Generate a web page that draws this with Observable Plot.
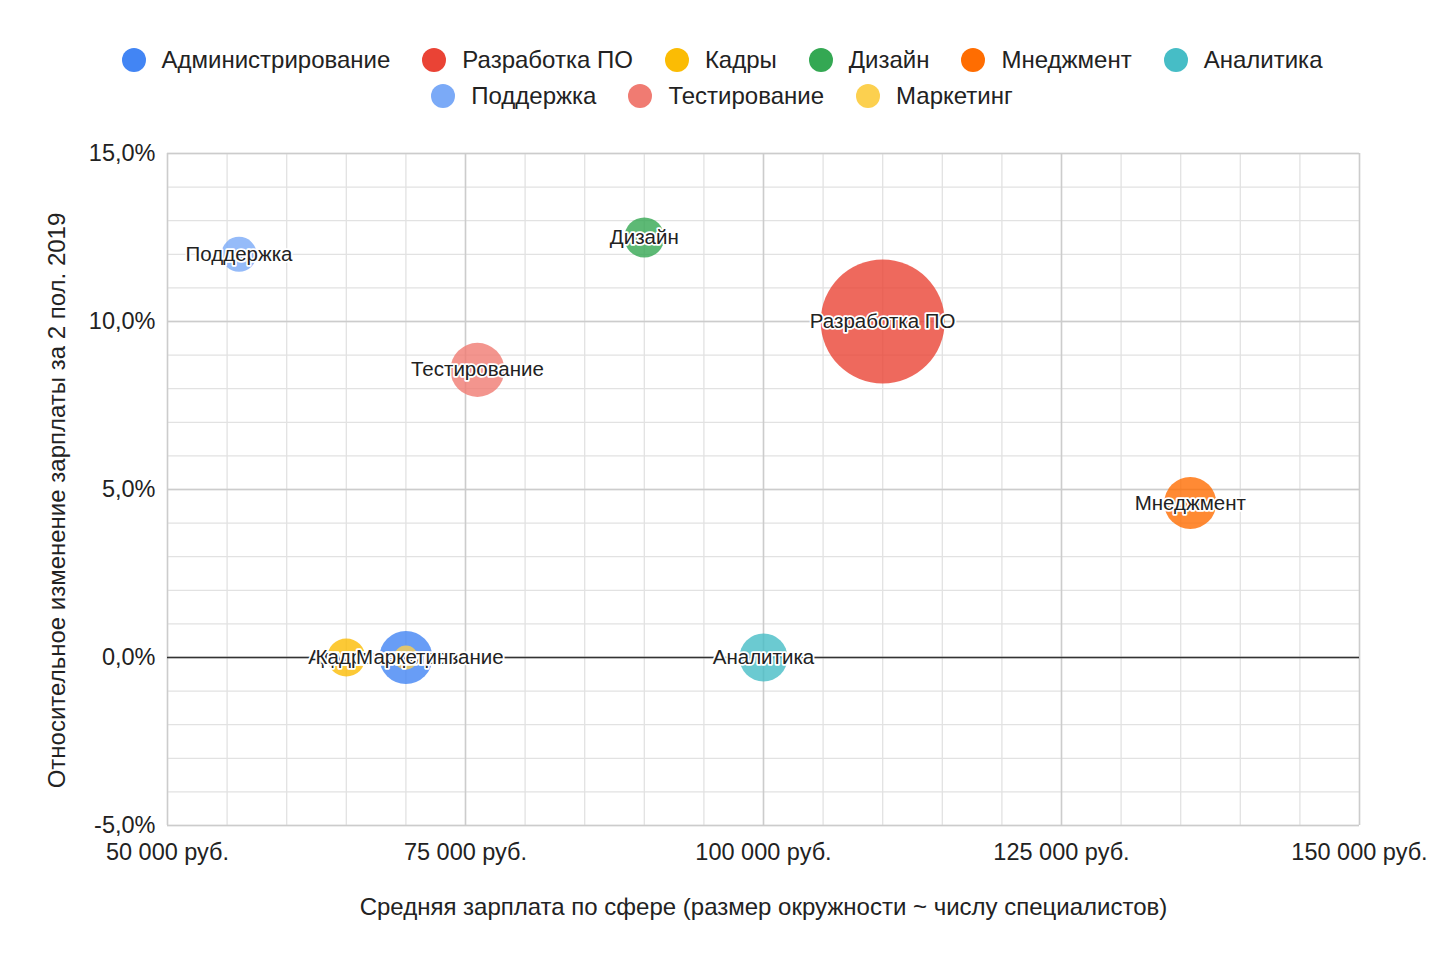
<!DOCTYPE html>
<html>
<head>
<meta charset="utf-8">
<script src="https://cdn.jsdelivr.net/npm/d3@7"></script>
<script src="https://cdn.jsdelivr.net/npm/@observablehq/plot@0.6"></script>
<style>
  html, body { margin: 0; padding: 0; background: #fff; }
  body { width: 1444px; height: 962px; overflow: hidden; font-family: "Liberation Sans", Arial, sans-serif; color: #222; }
  #legend { box-sizing: border-box; height: 120px; padding-top: 46px; }
  #legend .wrap { max-width: 1240px; margin: 0 auto; display: flex; flex-wrap: wrap; justify-content: center; column-gap: 32px; row-gap: 9px; }
  #legend .item { display: flex; align-items: center; height: 27px; font-size: 24px; }
  #legend .dot { width: 24px; height: 24px; border-radius: 50%; margin-right: 16px; }
  #chart svg { display: block; }
</style>
</head>
<body>
<div id="legend"><div class="wrap"></div></div>
<div id="chart"></div>
<script>
// ---- data ----
const categories = ["Администрирование", "Разработка ПО", "Кадры", "Дизайн", "Мнеджмент", "Аналитика", "Поддержка", "Тестирование", "Маркетинг"];
const salaries = [70000, 110000, 65000, 90000, 135800, 100000, 56000, 76000, 70000];
const changes = [0, 0.10, 0, 0.125, 0.046, 0, 0.12, 0.0856, 0];
const specialists = [183, 1000, 94, 104, 176, 150, 80, 190, 37];
const xTicks = [50000, 75000, 100000, 125000, 150000];
const yTicks = [-0.05, 0, 0.05, 0.10, 0.15];
const xLabel = "Средняя зарплата по сфере (размер окружности ~ числу специалистов)";
const yLabel = "Относительное изменение зарплаты за 2 пол. 2019";

// ---- styles ----
const palette = ["#4285F4", "#EA4335", "#FBBC04", "#34A853", "#FF6D01", "#46BDC6", "#7BAAF7", "#F07B72", "#FCD04F"];

const data = categories.map((c, i) => ({cat: c, x: salaries[i], y: changes[i], n: specialists[i]}));

// legend
const wrap = document.querySelector("#legend .wrap");
categories.forEach((c, i) => {
  const it = document.createElement("div");
  it.className = "item";
  const d = document.createElement("span");
  d.className = "dot";
  d.style.background = palette[i];
  const t = document.createElement("span");
  t.textContent = c;
  it.appendChild(d); it.appendChild(t);
  wrap.appendChild(it);
});

const fmtX = v => d3.format(",")(v).replace(/,/g, "\u00a0") + " руб.";
const fmtY = v => d3.format(".1%")(v).replace(".", ",").replace("\u2212", "-");

const minorX = d3.range(50000, 150001, 5000);
const minorY = d3.range(-5, 16, 1).map(v => v / 100);

const FONT = "'Liberation Sans', Arial, sans-serif";

const chart = Plot.plot({
  width: 1444,
  height: 842,
  marginTop: 33,
  marginBottom: 137,
  marginLeft: 167,
  marginRight: 85,
  style: {fontFamily: FONT, fontSize: "21px", color: "#222", background: "#fff"},
  x: {domain: [50000, 150000], axis: null},
  y: {domain: [-0.05, 0.15], axis: null},
  r: {type: "sqrt", domain: [0, 1000], range: [0, 62]},
  color: {domain: categories, range: palette},
  marks: [
    Plot.gridX(minorX, {stroke: "#e2e2e2", strokeOpacity: 1, strokeWidth: 1.3}),
    Plot.gridY(minorY, {stroke: "#e2e2e2", strokeOpacity: 1, strokeWidth: 1.3}),
    Plot.gridX(xTicks, {stroke: "#cccccc", strokeOpacity: 1, strokeWidth: 1.5}),
    Plot.gridY(yTicks, {stroke: "#cccccc", strokeOpacity: 1, strokeWidth: 1.5}),
    Plot.ruleY([0], {stroke: "#333", strokeWidth: 1.3}),
    Plot.axisX({ticks: xTicks, tickFormat: fmtX, tickSize: 0, tickPadding: 18, fontSize: 23.5, label: null}),
    Plot.axisY({ticks: yTicks, tickFormat: fmtY, tickSize: 0, tickPadding: 12, fontSize: 23.5, label: null}),
    Plot.text([xLabel], {frameAnchor: "bottom", text: d => d, dy: 82, fontSize: 24, lineAnchor: "middle", fill: "#222"}),
    Plot.text([yLabel], {frameAnchor: "left", text: d => d, rotate: -90, dx: -110, dy: 11, fontSize: 24, lineAnchor: "middle", textAnchor: "middle", fill: "#222"}),
    Plot.dot(data, {x: "x", y: "y", r: "n", fill: "cat", fillOpacity: 0.8, stroke: null}),
    Plot.text(data, {x: "x", y: "y", text: "cat", fontSize: 20.5, fill: "#222", stroke: "white", strokeWidth: 3.5, strokeLinejoin: "round", lineAnchor: "middle"})
  ]
});
document.getElementById("chart").appendChild(chart);
</script>
</body>
</html>
